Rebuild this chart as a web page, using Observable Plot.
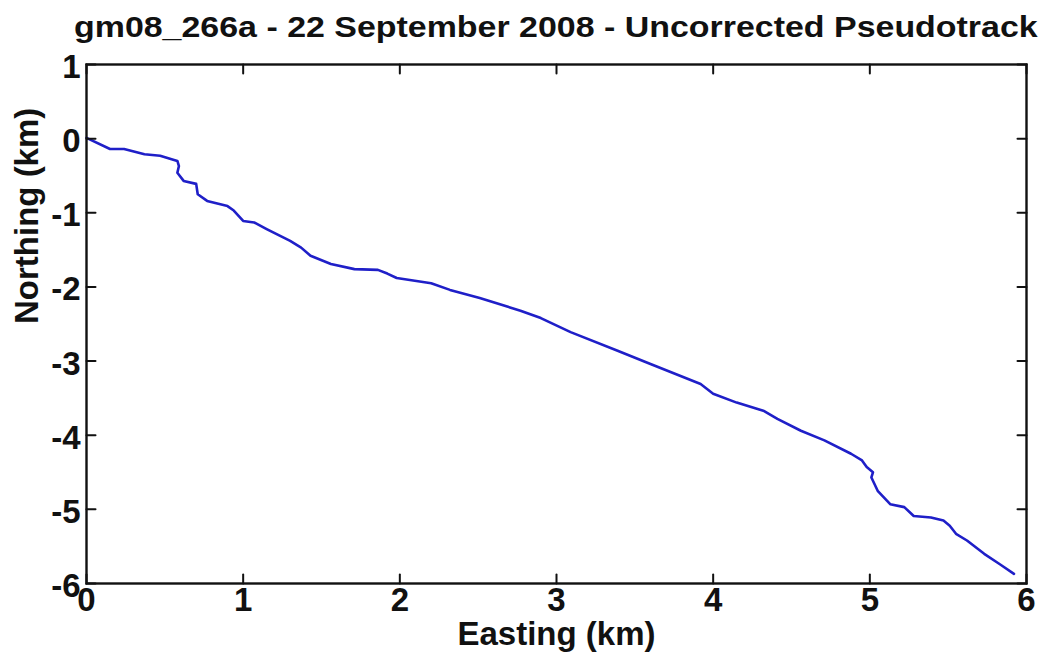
<!DOCTYPE html>
<html>
<head>
<meta charset="utf-8">
<script src="https://cdn.jsdelivr.net/npm/d3@7"></script>
<script src="https://cdn.jsdelivr.net/npm/@observablehq/plot@0.6"></script>
<style>
  html, body { margin: 0; padding: 0; background: #fff; }
  #wrap { width: 1048px; height: 662px; overflow: hidden; font-family: "Liberation Sans", Arial, sans-serif; }
  #title { height: 44px; box-sizing: border-box; padding: 11px 22px 0 86px; text-align: center;
           font-weight: bold; font-size: 29px; line-height: 32px; color: #111; white-space: nowrap; }
  #title span { display: inline-block; transform: scaleX(1.17); transform-origin: center; }
</style>
</head>
<body>
<div id="wrap">
  <div id="title"><span>gm08_266a - 22 September 2008 - Uncorrected Pseudotrack</span></div>
  <div id="chart"></div>
</div>
<script>
// Track coordinates (km)
const easting = [0.00, 0.15, 0.24, 0.37, 0.47, 0.58, 0.59, 0.58, 0.62, 0.70, 0.71, 0.77, 0.90, 0.94, 1.00, 1.07, 1.15, 1.30,
  1.37, 1.43, 1.56, 1.71, 1.86, 1.92, 1.98, 2.20, 2.32, 2.51, 2.77, 2.90, 3.09, 3.39,
  3.60, 3.92, 4.00, 4.15, 4.32, 4.41, 4.56, 4.71, 4.88, 4.95, 4.98, 5.02, 5.01, 5.05, 5.13, 5.22, 5.28, 5.39, 5.47, 5.51, 5.55, 5.62, 5.73, 5.83, 5.92];
const northing = [0.01, -0.14, -0.14, -0.21, -0.23, -0.30, -0.37, -0.46, -0.57, -0.61, -0.75, -0.84, -0.91, -0.97, -1.11, -1.13, -1.22, -1.38,
  -1.47, -1.58, -1.69, -1.76, -1.77, -1.82, -1.88, -1.95, -2.04, -2.15, -2.32, -2.42, -2.61, -2.86,
  -3.04, -3.31, -3.44, -3.56, -3.67, -3.78, -3.94, -4.07, -4.25, -4.34, -4.43, -4.50, -4.57, -4.75, -4.93, -4.97, -5.09, -5.11, -5.15, -5.22, -5.33, -5.42, -5.60, -5.74, -5.87];
const xTicks = [0, 1, 2, 3, 4, 5, 6];
const yTicks = [1, 0, -1, -2, -3, -4, -5, -6];
const xLabel = "Easting (km)";
const yLabel = "Northing (km)";

const track = easting.map((x, i) => ({x, y: northing[i]}));

// a plain stroke (no arrow head) for the inward tick marks
const stick = {draw(context, l) { context.moveTo(0, 0); context.lineTo(0, -l); }};
const tickStyle = {shape: stick, length: 9, anchor: "start", stroke: "#111", strokeWidth: 2};

const ink = "#111";
const tickFont = {fontSize: 33, fontWeight: "bold", fill: ink, tickFormat: d => String(d)};

const chart = Plot.plot({
  width: 1048,
  height: 618,
  marginLeft: 86,
  marginRight: 22,
  marginTop: 20,
  marginBottom: 79,
  style: {fontFamily: "'Liberation Sans', Arial, sans-serif", background: "#fff", color: ink},
  x: {domain: [0, 6]},
  y: {domain: [-6, 1]},
  marks: [
    Plot.line(track, {x: "x", y: "y", stroke: "#1f1fc8", strokeWidth: 2.6}),
    // inside ticks on all four sides
    Plot.vector(xTicks, {x: d => d, frameAnchor: "bottom", rotate: 0, ...tickStyle}),
    Plot.vector(xTicks, {x: d => d, frameAnchor: "top", rotate: 180, ...tickStyle}),
    Plot.vector(yTicks, {y: d => d, frameAnchor: "left", rotate: 90, ...tickStyle}),
    Plot.vector(yTicks, {y: d => d, frameAnchor: "right", rotate: -90, ...tickStyle}),
    // tick labels
    Plot.axisX(xTicks, {anchor: "bottom", tickSize: 0, tickPadding: 4, label: null, ...tickFont}),
    Plot.axisY(yTicks, {anchor: "left", tickSize: 0, tickPadding: 6, dy: 3, label: null, ...tickFont}),
    Plot.frame({stroke: ink, strokeWidth: 2.4}),
    Plot.text([xLabel], {frameAnchor: "bottom", dy: 51, text: d => d, fontSize: 33, fontWeight: "bold", fill: ink, lineAnchor: "middle"}),
    Plot.text([yLabel], {frameAnchor: "left", dx: -59, rotate: -90, text: d => d, fontSize: 33, fontWeight: "bold", fill: ink, lineAnchor: "middle"})
  ]
});
document.getElementById("chart").appendChild(chart);
</script>
</body>
</html>
